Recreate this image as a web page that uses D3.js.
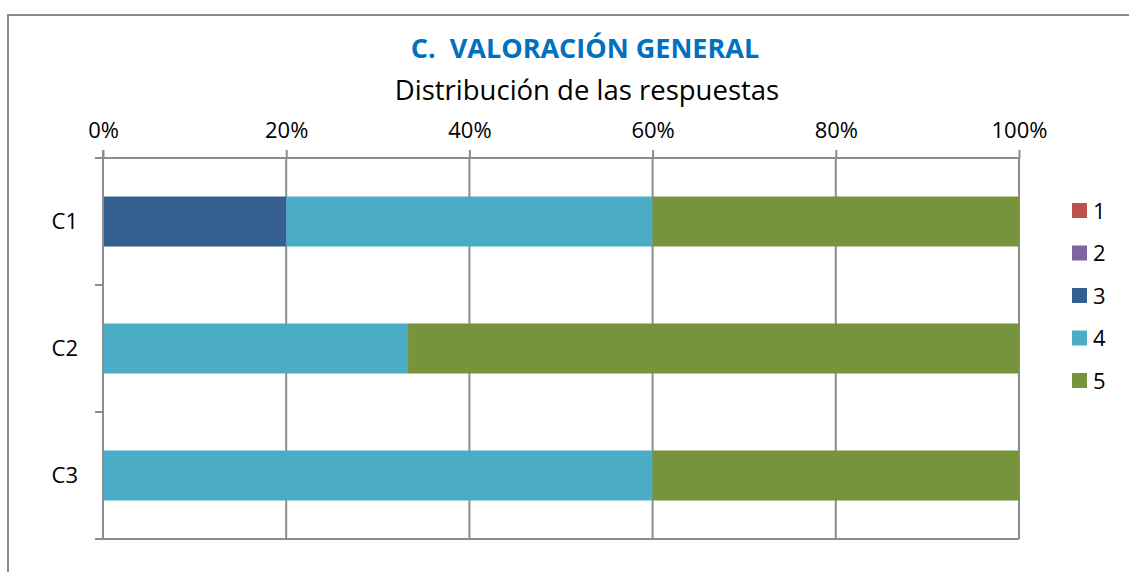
<!DOCTYPE html>
<html>
<head>
<meta charset="utf-8">
<script src="https://cdn.jsdelivr.net/npm/d3@7"></script>
<style>
  body { margin: 0; background: #fff; }
  text { font-family: "Open Sans", "Noto Sans", sans-serif; }
</style>
</head>
<body>
<script>
var width = 1129, height = 572;

// data (share of answers per question)
var categories = ["C1", "C2", "C3"];
var seriesNames = ["1", "2", "3", "4", "5"];
var s1 = [0, 0, 0];
var s2 = [0, 0, 0];
var s3 = [0.20, 0, 0];
var s4 = [0.40, 0.333, 0.60];
var s5 = [0.40, 0.667, 0.40];
var tickValues = [0, 0.2, 0.4, 0.6, 0.8, 1];
var colors = ["#C0504D", "#8064A2", "#355F91", "#4BACC6", "#77933C"];

var allSeries = [s1, s2, s3, s4, s5];

var svg = d3.select("body").append("svg")
    .attr("width", width)
    .attr("height", height);

// outer chart border (cropped at right/bottom)
svg.append("path")
    .attr("d", "M8,572 L8,15 L1129,15")
    .attr("fill", "none")
    .attr("stroke", "#8c8c8c")
    .attr("stroke-width", 2);

var plot = { left: 103, right: 1019, top: 158, bottom: 539 };

var x = d3.scaleLinear().domain([0, 1]).range([plot.left, plot.right]);
var yb = d3.scaleBand().domain(categories).range([plot.top, plot.bottom]);

// gridlines
svg.append("g").selectAll("line")
    .data(tickValues.slice(1))
    .join("line")
    .attr("x1", d => x(d)).attr("x2", d => x(d))
    .attr("y1", plot.top).attr("y2", plot.bottom)
    .attr("stroke", "#8c8c8c").attr("stroke-width", 2);

// stacked bars
var stacked = categories.map(function (c, i) {
  var acc = 0;
  return allSeries.map(function (s, j) {
    var seg = { cat: c, k: j, x0: acc, x1: acc + s[i] };
    acc += s[i];
    return seg;
  });
});

svg.append("g").selectAll("g")
    .data(stacked)
    .join("g")
    .selectAll("rect")
    .data(d => d.filter(s => s.x1 > s.x0))
    .join("rect")
    .attr("x", d => x(d.x0))
    .attr("width", d => x(d.x1) - x(d.x0))
    .attr("y", d => yb(d.cat) + yb.bandwidth() / 2 - 25)
    .attr("height", 50)
    .attr("fill", d => colors[d.k]);

// top value axis
var xAxis = d3.axisTop(x).tickValues(tickValues).tickFormat(d3.format(".0%")).tickSize(8).tickPadding(12);
var gx = svg.append("g").attr("transform", "translate(0," + plot.top + ")").call(xAxis);
gx.select(".domain").attr("stroke", "#8c8c8c").attr("stroke-width", 2)
    .attr("d", "M" + plot.left + ",0H" + plot.right);
gx.selectAll(".tick line").attr("stroke", "#8c8c8c").attr("stroke-width", 2);
gx.selectAll(".tick text").attr("font-size", 22).attr("fill", "#000")
    .attr("font-family", "'Open Sans', sans-serif");

// bottom plot edge
svg.append("line")
    .attr("x1", plot.left - 8).attr("x2", plot.right)
    .attr("y1", plot.bottom).attr("y2", plot.bottom)
    .attr("stroke", "#8c8c8c").attr("stroke-width", 2);

// left category axis
svg.append("line")
    .attr("x1", plot.left).attr("x2", plot.left)
    .attr("y1", plot.top - 8).attr("y2", plot.bottom)
    .attr("stroke", "#8c8c8c").attr("stroke-width", 2);

var boundaries = categories.map(c => yb(c)).concat([plot.bottom]);
svg.append("g").selectAll("line")
    .data(boundaries)
    .join("line")
    .attr("x1", plot.left - 8).attr("x2", plot.left)
    .attr("y1", d => d).attr("y2", d => d)
    .attr("stroke", "#8c8c8c").attr("stroke-width", 2);

svg.append("g").selectAll("text")
    .data(categories)
    .join("text")
    .attr("x", 78)
    .attr("y", d => yb(d) + yb.bandwidth() / 2)
    .attr("dy", "0.35em")
    .attr("text-anchor", "end")
    .attr("font-size", 22)
    .text(d => d);

// titles
svg.append("text")
    .attr("x", 585).attr("y", 58)
    .attr("text-anchor", "middle")
    .attr("font-size", 27).attr("font-weight", "bold")
    .attr("fill", "#0070C0")
    .attr("xml:space", "preserve")
    .text("C.  VALORACIÓN GENERAL");

svg.append("text")
    .attr("x", 587).attr("y", 100)
    .attr("text-anchor", "middle")
    .attr("font-size", 27.5)
    .attr("fill", "#000")
    .text("Distribución de las respuestas");

// legend
var legend = svg.append("g").selectAll("g")
    .data(seriesNames)
    .join("g")
    .attr("transform", (d, i) => "translate(1072," + (203 + i * 42.5) + ")");

legend.append("rect")
    .attr("width", 15).attr("height", 15)
    .attr("fill", (d, i) => colors[i]);

legend.append("text")
    .attr("x", 21).attr("y", 8)
    .attr("dy", "0.35em")
    .attr("font-size", 22)
    .text(d => d);
</script>
</body>
</html>
